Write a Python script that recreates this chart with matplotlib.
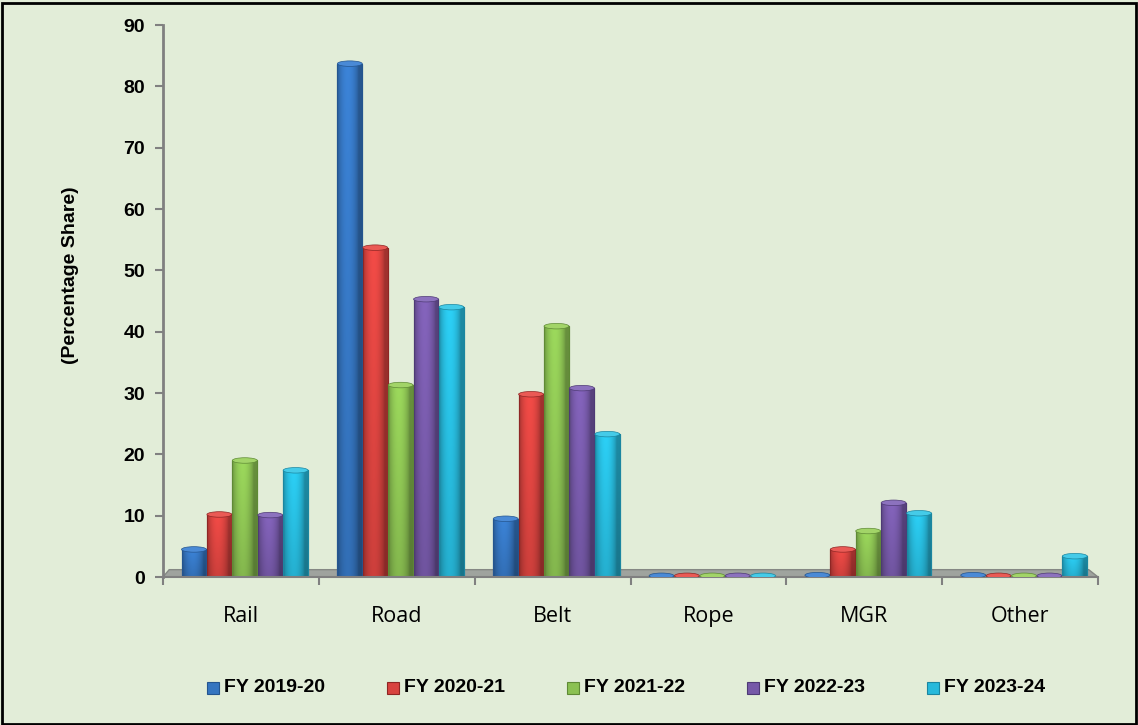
import matplotlib
matplotlib.use("Agg")
import matplotlib.pyplot as plt
from matplotlib.patches import Ellipse, Polygon, Rectangle
import matplotlib.colors as mcolors
import numpy as np

categories = ["Rail", "Road", "Belt", "Rope", "MGR", "Other"]
series_names = ["FY 2019-20", "FY 2020-21", "FY 2021-22", "FY 2022-23", "FY 2023-24"]
fy_2019_20 = [4.5, 83.7, 9.5, 0.2, 0.3, 0.3]
fy_2020_21 = [10.2, 53.7, 29.8, 0.2, 4.5, 0.2]
fy_2021_22 = [19.0, 31.3, 40.9, 0.2, 7.5, 0.2]
fy_2022_23 = [10.1, 45.3, 30.8, 0.2, 12.1, 0.2]
fy_2023_24 = [17.4, 44.0, 23.3, 0.2, 10.4, 3.4]
yticks = [0, 10, 20, 30, 40, 50, 60, 70, 80, 90]

series = [fy_2019_20, fy_2020_21, fy_2021_22, fy_2022_23, fy_2023_24]
colors = ["#3575C0", "#D8433F", "#8BC152", "#7659A8", "#27B9DB"]
edges = ["#24558F", "#8E2624", "#5F8A35", "#4E3A75", "#1B86A0"]
caps = ["#4A8AD6", "#EA5A55", "#A2D468", "#8C72BE", "#45CBE8"]

bg = "#E2EDD8"
boldfont = ["Liberation Sans", "DejaVu Sans"]

fig = plt.figure(figsize=(11.38, 7.25), dpi=100, facecolor=bg)
ax = fig.add_axes([0.1432, 0.2041, 0.8217, 0.7614])
ax.set_facecolor(bg)

x = np.arange(len(categories))
bw = 0.163
shift = 0.025
offsets = (np.arange(5) - 2) * bw + shift

# floor plate
floor = Polygon([(-0.5, 0), (5.5, 0), (5.44, 1.2), (-0.46, 1.2)], closed=True,
                facecolor="#9FA39E", edgecolor="#858884", linewidth=1, zorder=1)
ax.add_patch(floor)

t = np.linspace(0, 1, 64)
hprof = 0.72 + 0.36 * np.sin(np.pi * np.clip(t * 1.15, 0, 1)) ** 0.7
vprof = np.linspace(0.88, 1.04, 32)[:, None]

for i, vals in enumerate(series):
    bars = ax.bar(x + offsets[i], vals, width=bw * 0.98, color=colors[i], edgecolor=edges[i],
                  linewidth=0.8, zorder=2, label=series_names[i])
    base = np.array(mcolors.to_rgb(colors[i]))
    img = np.clip(base[None, None, :] * hprof[None, :, None] * vprof[:, :, None], 0, 1)
    for b, v in zip(bars, vals):
        x0 = b.get_x()
        w = b.get_width()
        im = ax.imshow(img, extent=(x0, x0 + w, 0, v), origin="lower", aspect="auto",
                       zorder=2.2, interpolation="bilinear")
        im.set_clip_path(b)
        ax.add_patch(Rectangle((x0, 0), w, v, fill=False, edgecolor=edges[i],
                               linewidth=0.8, zorder=2.4))
        ax.add_patch(Ellipse((x0 + w / 2, v), w, 0.9, facecolor=caps[i],
                             edgecolor=edges[i], linewidth=0.5, zorder=3))

ax.set_xlim(-0.5, 5.5)
ax.set_ylim(0, 90)

ax.set_yticks(yticks)
ax.set_yticklabels([str(t) for t in yticks], fontfamily=boldfont, fontweight="bold", fontsize=14)
ax.set_xticks(np.arange(-0.5, 6.0, 1.0))
ax.set_xticklabels([])
ax.set_xticks(x, minor=True)
ax.set_xticklabels(categories, minor=True, fontfamily=["Open Sans", "DejaVu Sans"], fontsize=15.5)
ax.tick_params(axis="x", which="minor", length=0, pad=21)
ax.tick_params(axis="x", which="major", length=6, color="#808080", width=1.5)
ax.tick_params(axis="y", length=6, color="#808080", width=1.5, pad=7)

for s in ["top", "right"]:
    ax.spines[s].set_visible(False)
ax.spines["left"].set_color("#808080")
ax.spines["left"].set_linewidth(2)
ax.spines["bottom"].set_color("#808080")
ax.spines["bottom"].set_linewidth(1.5)

ax.set_ylabel("(Percentage Share)", fontfamily=boldfont, fontweight="bold", fontsize=14)
ax.yaxis.set_label_coords(-0.09, 0.547)

# legend, drawn as square markers with bold labels
W, H = 1138.0, 725.0
for i, name in enumerate(series_names):
    mx = 207 + 180 * i
    fig.patches.append(Rectangle((mx / W, (725 - 694) / H), 12 / W, 12 / H, transform=fig.transFigure,
                                 facecolor=colors[i], edgecolor=edges[i], linewidth=0.8))
    fig.text((mx + 17) / W, (725 - 688) / H, name, fontfamily=boldfont, fontweight="bold",
             fontsize=14, va="center", ha="left")

fig.patches.append(Rectangle((0.002, 0.002), 0.996, 0.994, transform=fig.transFigure,
                             fill=False, edgecolor="black", linewidth=2))

fig.savefig("out.png", dpi=100, facecolor=bg)
